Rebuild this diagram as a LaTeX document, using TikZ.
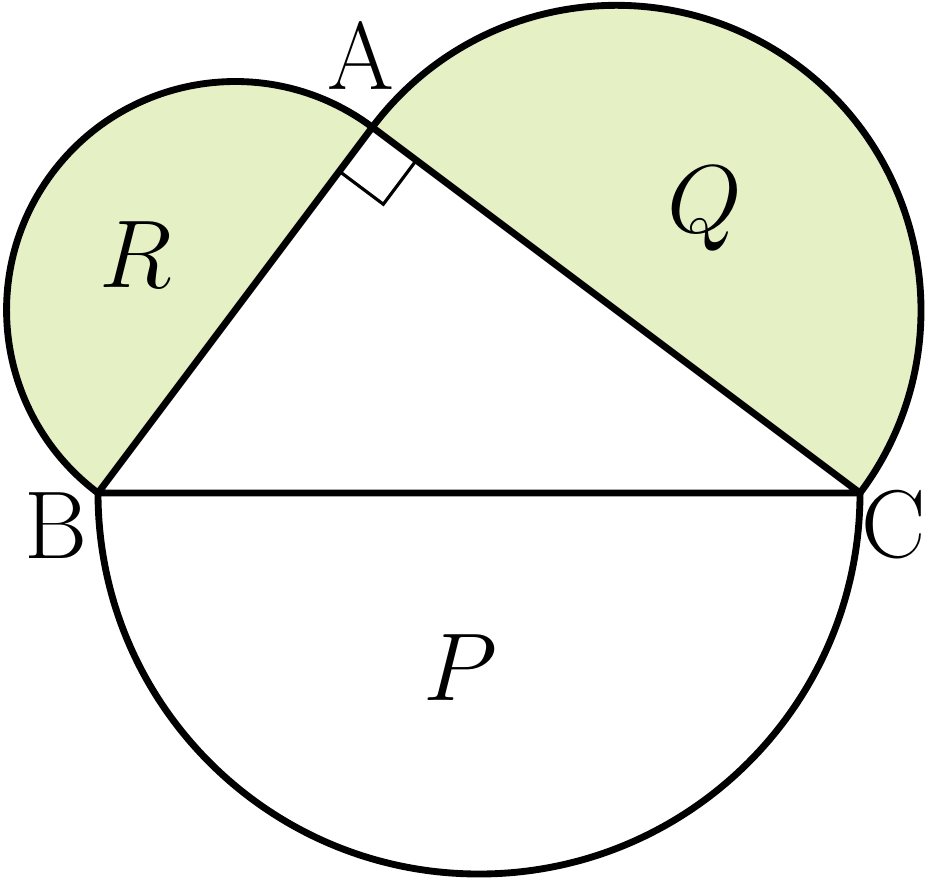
\RequirePackage{fix-cm}
\documentclass[tikz,border=0pt]{standalone}
\usepackage{fontspec}
\usepackage{xcolor}
\usepackage{tikz}
\usetikzlibrary{calc}
\definecolor{leaf}{RGB}{229,240,197}

\begin{document}
\begin{tikzpicture}[edge/.style={line width=1.95pt}, rightangle/.style={line width=0.9pt}, lbl/.style={anchor=base, inner sep=0pt, font=\fontsize{27.4}{33}\selectfont}]
    \useasboundingbox (0,0) rectangle (9.28,8.80);
    \coordinate (B) at (0.98,3.87);
    \coordinate (C) at (8.60,3.87);
    \coordinate (A) at (3.7232,7.5276);
    \fill [leaf] (A) arc [start angle=53.13, end angle=233.13, radius=2.286] -- cycle;
    \fill [leaf] (C) arc [start angle=-36.87, end angle=143.13, radius=3.048] -- cycle;
    \draw [edge] (A) arc [start angle=53.13, end angle=233.13, radius=2.286];
    \draw [edge] (C) arc [start angle=-36.87, end angle=143.13, radius=3.048];
    \draw [edge] (B) arc [start angle=180, end angle=360, radius=3.81];
    \draw [edge, line join=round] (A) -- (B) -- (C) -- cycle;
    \coordinate (AB) at ($(A)!0.55cm!(B)$);
    \coordinate (AC) at ($(A)!0.55cm!(C)$);
    \draw [rightangle] (AB) -- ($(AB)+(AC)-(A)$) -- (AC);
    \node [lbl] (LA) at (3.61,7.90) {A};
    \node [lbl] (LB) at (0.56,3.22) {B};
    \node [lbl] (LC) at (8.94,3.23) {C};
    \node [lbl] (LR) at (1.36,5.93) {$R$};
    \node [lbl] (LQ) at (7.05,6.48) {$Q$};
    \node [lbl] (LP) at (4.60,1.80) {$P$};
\end{tikzpicture}
\end{document}
